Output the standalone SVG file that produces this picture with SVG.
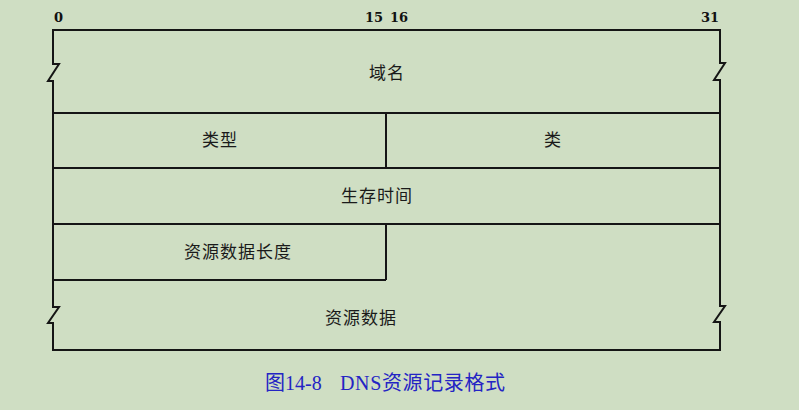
<svg xmlns="http://www.w3.org/2000/svg" width="799" height="410" viewBox="0 0 799 410">
<style>
.ln{fill:none;stroke:#151515;stroke-width:2;stroke-linejoin:miter}
.lb{font-family:"Noto Sans CJK SC",sans-serif;font-size:17px;fill:#1a1a1a;text-anchor:middle;letter-spacing:1px}
.num{font-family:"DejaVu Serif","Liberation Serif",serif;font-size:13px;font-weight:bold;fill:#111}
.cap{font-family:"Liberation Serif","Noto Sans CJK SC",serif;font-size:20px;fill:#2424c4}
</style>
<rect width="799" height="410" fill="#cfdec3"/>
<g id="bits">
<text class="num" x="54" y="22">0</text>
<text class="num" x="383" y="22" text-anchor="end">15</text>
<text class="num" x="390" y="22">16</text>
<text class="num" x="719" y="22" text-anchor="end">31</text>
</g>
<g id="connectors">
<path class="ln" d="M53,30 H720 V63 H725 L714,80 H720 V306 H725 L714,322 H720 V350 H53 V323 H48 L59,307 H53 V81 H48 L59,64 H53 Z"/>
<line class="ln" x1="53" y1="113" x2="720" y2="113"/>
<line class="ln" x1="53" y1="168" x2="720" y2="168"/>
<line class="ln" x1="53" y1="224" x2="720" y2="224"/>
<line class="ln" x1="53" y1="280" x2="386" y2="280"/>
<line class="ln" x1="386" y1="113" x2="386" y2="168"/>
<line class="ln" x1="386" y1="224" x2="386" y2="280"/>
</g>
<g id="n-domain"><text class="lb" x="387" y="79">域名</text></g>
<g id="n-type"><text class="lb" x="220" y="146">类型</text></g>
<g id="n-class"><text class="lb" x="553" y="146">类</text></g>
<g id="n-ttl"><text class="lb" x="377" y="202">生存时间</text></g>
<g id="n-rdlen"><text class="lb" x="238" y="258">资源数据长度</text></g>
<g id="n-rdata"><text class="lb" x="361" y="324">资源数据</text></g>
<g id="caption">
<text class="cap" x="265" y="390">图14-8</text>
<text class="cap" x="340" y="390" textLength="165" lengthAdjust="spacing">DNS资源记录格式</text>
</g>
</svg>
